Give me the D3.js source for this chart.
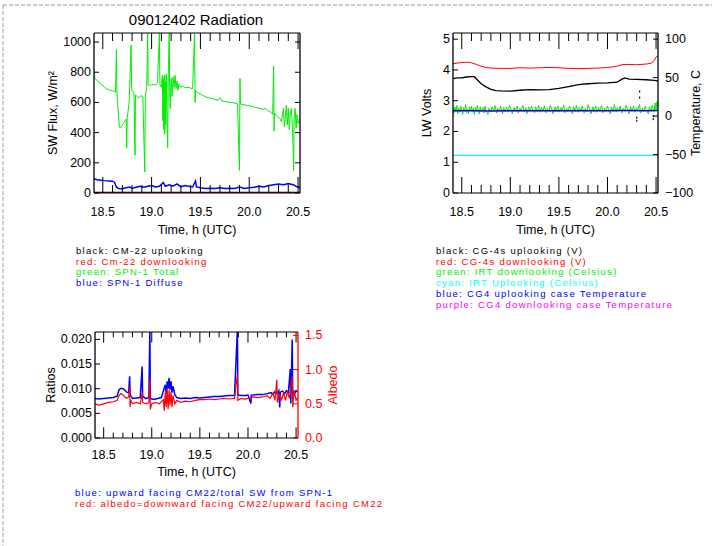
<!DOCTYPE html>
<html>
<head>
<meta charset="utf-8">
<script src="https://cdn.jsdelivr.net/npm/d3@7"></script>
<style>
  body { margin: 0; background: #fff; }
  text { font-family: "Liberation Sans", Arial, sans-serif; }
</style>
</head>
<body>
<div id="chart"></div>
<script>
// ---- data (time in h UTC) ----
const xMajor = [18.5, 19.0, 19.5, 20.0, 20.5];
const xMinor = [18.6, 18.7, 18.8, 18.9, 19.1, 19.2, 19.3, 19.4, 19.6, 19.7, 19.8, 19.9, 20.1, 20.2, 20.3, 20.4];

// panel 1: SW flux
const swTicks = [0, 200, 400, 600, 800, 1000];
const cm22Up = [[18.41, 1], [19.0, 1], [19.5, 1], [20.0, 1], [20.52, 1]];
const cm22Down = [[18.41, 0], [19.0, 0], [19.5, 0], [20.0, 0], [20.52, 0]];
const spnTotal = [[18.41,790],[18.42,760],[18.44,745],[18.46,735],[18.48,720],[18.50,712],[18.52,700],[18.54,690],[18.56,685],[18.58,680],[18.60,678],[18.62,672],[18.63,668],[18.64,950],[18.645,660],[18.66,520],[18.67,440],[18.68,430],[18.70,450],[18.72,470],[18.74,490],[18.745,300],[18.75,495],[18.77,600],[18.79,980],[18.795,700],[18.80,680],[18.82,660],[18.83,250],[18.835,650],[18.85,640],[18.87,630],[18.89,645],[18.91,640],[18.93,140],[18.935,635],[18.95,700],[18.96,1060],[18.965,715],[18.98,712],[19.00,718],[19.02,720],[19.04,715],[19.06,730],[19.08,1060],[19.085,720],[19.10,700],[19.11,780],[19.115,480],[19.12,760],[19.125,420],[19.13,780],[19.135,390],[19.14,740],[19.145,450],[19.15,790],[19.16,420],[19.165,300],[19.17,760],[19.18,1060],[19.185,700],[19.19,560],[19.20,760],[19.21,640],[19.22,770],[19.23,700],[19.24,780],[19.25,690],[19.26,740],[19.27,680],[19.28,720],[19.30,700],[19.32,710],[19.34,700],[19.36,698],[19.38,700],[19.40,695],[19.42,690],[19.44,1060],[19.445,600],[19.45,680],[19.47,665],[19.50,655],[19.53,645],[19.56,635],[19.60,628],[19.64,622],[19.68,615],[19.70,630],[19.72,610],[19.76,605],[19.80,600],[19.84,598],[19.88,592],[19.90,150],[19.905,760],[19.91,590],[19.94,585],[19.98,580],[20.02,575],[20.06,568],[20.10,562],[20.14,555],[20.17,560],[20.19,545],[20.21,540],[20.23,530],[20.24,520],[20.25,840],[20.255,410],[20.26,530],[20.28,510],[20.30,500],[20.32,490],[20.33,470],[20.35,560],[20.36,440],[20.38,580],[20.39,450],[20.40,560],[20.41,420],[20.42,520],[20.43,560],[20.44,470],[20.45,300],[20.455,150],[20.46,500],[20.47,560],[20.48,430],[20.49,520],[20.50,460],[20.51,480],[20.52,470]];
const spnDiffuse = [[18.41,95],[18.44,88],[18.48,85],[18.52,82],[18.56,80],[18.60,78],[18.62,70],[18.64,40],[18.66,30],[18.70,28],[18.74,35],[18.78,40],[18.80,30],[18.84,38],[18.88,45],[18.92,38],[18.96,45],[19.00,50],[19.04,40],[19.08,45],[19.12,70],[19.14,45],[19.18,55],[19.22,45],[19.26,60],[19.30,40],[19.34,50],[19.38,45],[19.42,40],[19.45,80],[19.46,40],[19.50,35],[19.55,30],[19.60,32],[19.65,30],[19.70,35],[19.75,30],[19.80,32],[19.85,30],[19.90,40],[19.95,30],[20.00,35],[20.05,38],[20.10,45],[20.15,40],[20.20,50],[20.25,55],[20.30,60],[20.35,55],[20.40,62],[20.45,55],[20.48,45],[20.52,35]];

// panel 2: LW volts and temperatures
const voltTicks = [0, 1, 2, 3, 4, 5];
const tempTicks = [-100, -50, 0, 50, 100];
const og4Up = [[18.41,3.72],[18.45,3.74],[18.50,3.74],[18.55,3.77],[18.60,3.78],[18.63,3.78],[18.66,3.68],[18.70,3.55],[18.75,3.45],[18.80,3.37],[18.85,3.33],[18.90,3.32],[19.00,3.31],[19.10,3.34],[19.20,3.36],[19.30,3.35],[19.40,3.36],[19.50,3.40],[19.60,3.46],[19.70,3.52],[19.80,3.55],[19.90,3.57],[20.00,3.58],[20.10,3.60],[20.15,3.70],[20.18,3.74],[20.22,3.70],[20.30,3.69],[20.40,3.68],[20.48,3.66],[20.52,3.64]];
const og4Down = [[18.41,4.20],[18.45,4.22],[18.50,4.24],[18.55,4.25],[18.60,4.23],[18.65,4.18],[18.70,4.12],[18.75,4.08],[18.80,4.06],[18.90,4.05],[19.00,4.05],[19.10,4.07],[19.20,4.06],[19.30,4.07],[19.40,4.08],[19.50,4.07],[19.60,4.05],[19.70,4.04],[19.80,4.05],[19.90,4.06],[20.00,4.08],[20.10,4.12],[20.15,4.17],[20.20,4.18],[20.30,4.17],[20.40,4.19],[20.45,4.22],[20.48,4.30],[20.50,4.42],[20.52,4.45]];
const og4Glitch = [[20.33,3.1],[20.33,3.3],[20.30,2.45],[20.30,2.35],[20.47,2.4],[20.47,2.5]];
const irtDown = [[18.41,9],[18.42,4],[18.43,12],[18.44,6],[18.45,14],[18.46,3],[18.47,10],[18.48,5],[18.49,13],[18.50,7],[18.51,2],[18.52,11],[18.53,6],[18.54,15],[18.55,4],[18.56,9],[18.57,3],[18.58,12],[18.59,7],[18.60,13],[18.61,5],[18.62,10],[18.63,2],[18.64,11],[18.65,6],[18.66,14],[18.67,8],[18.68,3],[18.69,12],[18.70,6],[18.72,11],[18.73,4],[18.74,13],[18.75,7],[18.77,2],[18.78,10],[18.80,5],[18.81,12],[18.83,6],[18.84,14],[18.86,4],[18.87,10],[18.89,7],[18.90,13],[18.92,3],[18.93,11],[18.95,6],[18.96,12],[18.98,5],[18.99,14],[19.01,8],[19.02,3],[19.04,11],[19.05,6],[19.07,13],[19.08,4],[19.10,10],[19.11,7],[19.13,14],[19.14,5],[19.16,11],[19.17,3],[19.19,12],[19.20,6],[19.22,13],[19.23,8],[19.25,4],[19.26,12],[19.28,6],[19.29,14],[19.31,5],[19.32,11],[19.34,7],[19.35,13],[19.37,4],[19.38,10],[19.40,6],[19.41,14],[19.43,8],[19.44,3],[19.46,12],[19.47,6],[19.49,13],[19.50,5],[19.52,11],[19.53,7],[19.55,14],[19.56,4],[19.58,10],[19.59,6],[19.61,13],[19.62,8],[19.64,3],[19.65,12],[19.67,6],[19.68,14],[19.70,5],[19.71,11],[19.73,7],[19.74,13],[19.76,4],[19.77,10],[19.79,6],[19.80,15],[19.82,8],[19.83,3],[19.85,12],[19.86,6],[19.88,13],[19.89,5],[19.91,11],[19.92,7],[19.94,14],[19.95,4],[19.97,10],[19.98,6],[20.00,13],[20.01,8],[20.03,3],[20.04,12],[20.06,6],[20.07,15],[20.09,5],[20.10,11],[20.12,7],[20.13,13],[20.15,4],[20.16,10],[20.18,6],[20.19,14],[20.21,8],[20.22,3],[20.24,12],[20.25,6],[20.27,13],[20.28,5],[20.30,11],[20.31,7],[20.33,15],[20.34,4],[20.36,10],[20.37,6],[20.39,13],[20.40,8],[20.42,3],[20.43,12],[20.45,6],[20.46,14],[20.48,5],[20.49,17],[20.50,8],[20.51,19],[20.52,10]];
const irtUp = [[18.41,-51],[19.0,-51],[19.5,-51],[20.0,-51],[20.52,-51]];
const caseUpTemp = [[18.41,7],[18.6,7.2],[18.8,6.8],[19.0,7],[19.2,7.1],[19.5,7],[19.8,7.2],[20.0,7.1],[20.2,7.3],[20.4,7.2],[20.52,7.4]];
const caseDownTemp = [[18.41,6.5],[18.6,6.6],[18.8,6.3],[19.0,6.4],[19.2,6.5],[19.5,6.4],[19.8,6.6],[20.0,6.5],[20.2,6.7],[20.4,6.6],[20.52,6.8]];

// panel 3: ratios and albedo
const ratioTicks = [0, 0.005, 0.010, 0.015, 0.020];
const albedoTicks = [0, 0.5, 1.0, 1.5];
const ratio = [[18.41,0.0080],[18.45,0.0079],[18.50,0.0080],[18.55,0.0081],[18.60,0.0082],[18.64,0.0085],[18.66,0.0098],[18.68,0.0101],[18.70,0.0100],[18.72,0.0097],[18.74,0.0093],[18.76,0.0092],[18.77,0.0125],[18.775,0.0088],[18.80,0.0080],[18.84,0.0081],[18.88,0.0082],[18.90,0.0145],[18.905,0.0085],[18.94,0.0080],[18.97,0.0082],[18.98,0.0220],[18.985,0.0080],[19.02,0.0078],[19.06,0.0080],[19.10,0.0082],[19.12,0.0095],[19.14,0.0108],[19.15,0.0090],[19.16,0.0115],[19.17,0.0100],[19.18,0.0122],[19.19,0.0098],[19.20,0.0115],[19.21,0.0092],[19.22,0.0105],[19.24,0.0088],[19.26,0.0082],[19.30,0.0080],[19.35,0.0081],[19.40,0.0080],[19.45,0.0082],[19.50,0.0081],[19.55,0.0082],[19.60,0.0083],[19.65,0.0084],[19.70,0.0084],[19.75,0.0085],[19.80,0.0086],[19.86,0.0086],[19.89,0.0220],[19.895,0.0087],[19.93,0.0086],[19.97,0.0086],[20.00,0.0087],[20.03,0.0070],[20.035,0.0087],[20.10,0.0088],[20.15,0.0088],[20.20,0.0090],[20.24,0.0092],[20.26,0.0088],[20.28,0.0094],[20.30,0.0090],[20.32,0.0096],[20.33,0.0062],[20.335,0.0093],[20.36,0.0095],[20.38,0.0090],[20.40,0.0096],[20.42,0.0092],[20.44,0.0140],[20.445,0.0070],[20.46,0.0200],[20.465,0.0095],[20.48,0.0088],[20.50,0.0096],[20.52,0.0093]];
const albedo = [[18.41,0.50],[18.45,0.48],[18.50,0.50],[18.55,0.52],[18.60,0.53],[18.64,0.55],[18.66,0.62],[18.68,0.65],[18.70,0.63],[18.72,0.60],[18.74,0.58],[18.76,0.60],[18.77,0.75],[18.775,0.45],[18.78,0.55],[18.80,0.50],[18.84,0.52],[18.88,0.50],[18.90,0.66],[18.905,0.52],[18.94,0.50],[18.97,0.52],[18.98,0.86],[18.985,0.42],[19.00,0.50],[19.04,0.52],[19.08,0.50],[19.12,0.56],[19.13,0.40],[19.14,0.66],[19.15,0.45],[19.16,0.72],[19.17,0.42],[19.18,0.70],[19.19,0.48],[19.20,0.68],[19.21,0.45],[19.22,0.62],[19.24,0.50],[19.26,0.55],[19.30,0.52],[19.35,0.54],[19.40,0.53],[19.45,0.55],[19.50,0.56],[19.55,0.56],[19.60,0.57],[19.65,0.56],[19.70,0.57],[19.75,0.58],[19.80,0.57],[19.86,0.58],[19.89,0.93],[19.895,0.55],[19.93,0.58],[19.97,0.57],[20.00,0.58],[20.05,0.60],[20.10,0.59],[20.15,0.60],[20.20,0.62],[20.23,0.58],[20.26,0.66],[20.28,0.55],[20.30,0.85],[20.305,0.52],[20.33,0.64],[20.35,0.56],[20.37,0.66],[20.39,0.55],[20.41,0.68],[20.43,0.58],[20.46,0.90],[20.465,0.45],[20.48,0.70],[20.50,0.55],[20.52,0.60]];

const legend1 = [["black: CM-22 uplooking", "#000"], ["red: Cm-22 downlooking", "#ff0000"], ["green: SPN-1 Total", "#00ee00"], ["blue: SPN-1 Diffuse", "#0000ff"]];
const legend2 = [["black: CG-4s uplooking (V)", "#000"], ["red: CG-4s downlooking (V)", "#ff0000"], ["green: IRT downlooking (Celsius)", "#00ee00"], ["cyan: IRT Uplooking (Celsius)", "#00ffff"], ["blue: CG4 uplooking case Temperature", "#0000ff"], ["purple: CG4 downlooking case Temperature", "#ff00ff"]];
const legend3 = [["blue: upward facing CM22/total SW from SPN-1", "#0000ff"], ["red: albedo=downward facing CM22/upward facing CM22", "#ff0000"]];

// ---- drawing ----
const svg = d3.select("#chart").append("svg")
  .attr("width", 715).attr("height", 546)
  .style("background", "#fff");

// dashed page border
svg.append("line").attr("x1", 3).attr("y1", 5).attr("x2", 712).attr("y2", 5)
  .attr("stroke", "#999").attr("stroke-dasharray", "4,2");
svg.append("line").attr("x1", 3).attr("y1", 5).attr("x2", 3).attr("y2", 546)
  .attr("stroke", "#999").attr("stroke-dasharray", "4,2");

let clipId = 0;

function panel(box, yDomL, yDomR) {
  const x = d3.scaleLinear().domain([18.41, 20.52]).range([box.x0, box.x1]);
  const yL = d3.scaleLinear().domain(yDomL).range([box.y1, box.y0]);
  const yR = yDomR ? d3.scaleLinear().domain(yDomR).range([box.y1, box.y0]) : null;
  const g = svg.append("g");
  const id = "clip" + (clipId++);
  svg.append("clipPath").attr("id", id).append("rect")
    .attr("x", box.x0).attr("y", box.y0)
    .attr("width", box.x1 - box.x0).attr("height", box.y1 - box.y0);
  const plot = g.append("g").attr("clip-path", "url(#" + id + ")");
  return { x, yL, yR, g, plot, box };
}

function line(p, data, y, color, w) {
  p.plot.append("path").datum(data)
    .attr("fill", "none").attr("stroke", color).attr("stroke-width", w || 1)
    .attr("d", d3.line().x(d => p.x(d[0])).y(d => y(d[1])));
}

function frame(p, o) {
  const b = p.box, g = p.g;
  const h = b.y1 - b.y0;
  const majLen = h * 0.1, minLen = h * 0.05;
  const labOff = o.labOff || 23, titleOff = o.titleOff || 41;
  // x ticks top and bottom
  xMajor.forEach(v => {
    const xx = p.x(v);
    g.append("line").attr("x1", xx).attr("x2", xx).attr("y1", b.y1).attr("y2", b.y1 - majLen).attr("stroke", "#000");
    g.append("line").attr("x1", xx).attr("x2", xx).attr("y1", b.y0).attr("y2", b.y0 + majLen).attr("stroke", "#000");
    g.append("text").attr("x", xx).attr("y", b.y1 + labOff).attr("text-anchor", "middle")
      .attr("font-size", 12.5).text(d3.format(".1f")(v));
  });
  xMinor.forEach(v => {
    const xx = p.x(v);
    g.append("line").attr("x1", xx).attr("x2", xx).attr("y1", b.y1).attr("y2", b.y1 - minLen).attr("stroke", "#000");
    g.append("line").attr("x1", xx).attr("x2", xx).attr("y1", b.y0).attr("y2", b.y0 + minLen).attr("stroke", "#000");
  });
  g.append("text").attr("x", (b.x0 + b.x1) / 2).attr("y", b.y1 + titleOff).attr("text-anchor", "middle")
    .attr("font-size", 12.5).text("Time, h (UTC)");

  // left axis
  o.leftTicks.forEach(v => {
    const yy = p.yL(v);
    g.append("line").attr("x1", b.x0).attr("x2", b.x0 + 5).attr("y1", yy).attr("y2", yy).attr("stroke", "#000");
    if (!p.yR) g.append("line").attr("x1", b.x1).attr("x2", b.x1 - 5).attr("y1", yy).attr("y2", yy).attr("stroke", "#000");
    g.append("text").attr("x", b.x0 - 3).attr("y", yy + 4).attr("text-anchor", "end")
      .attr("font-size", 12.5).text(o.leftFmt(v));
  });
  g.append("text").attr("transform", `translate(${o.leftTitleX},${(b.y0 + b.y1) / 2}) rotate(-90)`)
    .attr("text-anchor", "middle").attr("font-size", 12.5).text(o.leftTitle);

  // right axis
  const rc = o.rightColor || "#000";
  if (p.yR) {
    o.rightTicks.forEach(v => {
      const yy = p.yR(v);
      g.append("line").attr("x1", b.x1).attr("x2", b.x1 - 5).attr("y1", yy).attr("y2", yy).attr("stroke", rc);
      g.append("text").attr("x", b.x1 + 7).attr("y", yy + 4).attr("text-anchor", "start")
        .attr("fill", rc).attr("font-size", 12.5).text(o.rightFmt(v));
    });
    g.append("text").attr("transform", `translate(${o.rightTitleX},${(b.y0 + b.y1) / 2}) rotate(-90)`)
      .attr("text-anchor", "middle").attr("fill", rc).attr("font-size", 12.5).text(o.rightTitle);
  }

  // frame
  g.append("line").attr("x1", b.x0).attr("x2", b.x1).attr("y1", b.y0).attr("y2", b.y0).attr("stroke", "#000");
  g.append("line").attr("x1", b.x0).attr("x2", b.x1).attr("y1", b.y1).attr("y2", b.y1).attr("stroke", "#000");
  g.append("line").attr("x1", b.x0).attr("x2", b.x0).attr("y1", b.y0).attr("y2", b.y1).attr("stroke", "#000").attr("stroke-width", 1.3);
  g.append("line").attr("x1", b.x1).attr("x2", b.x1).attr("y1", b.y0).attr("y2", b.y1).attr("stroke", rc).attr("stroke-width", 1.3);
}

function legend(items, x, y) {
  items.forEach((d, i) => {
    svg.append("text").attr("x", x).attr("y", y + i * 10.7).attr("font-size", 9.5)
      .attr("letter-spacing", 1.3).attr("fill", d[1]).text(d[0]);
  });
}

// panel 1
const p1 = panel({ x0: 94, x1: 300, y0: 33, y1: 193 }, [0, 1060]);
line(p1, cm22Up, p1.yL, "#000", 2);
line(p1, cm22Down, p1.yL, "#ff0000", 1);
line(p1, spnTotal, p1.yL, "#00ee00", 1);
line(p1, spnDiffuse, p1.yL, "#0000ff", 1.5);
frame(p1, { leftTicks: swTicks, leftFmt: d3.format("d"), leftTitle: "SW Flux, W/m\u00b2", leftTitleX: 57 });
svg.append("text").attr("x", 196).attr("y", 25).attr("text-anchor", "middle")
  .attr("font-size", 15).text("09012402 Radiation");
legend(legend1, 76, 254);

// panel 2
const p2 = panel({ x0: 453, x1: 658, y0: 33, y1: 193 }, [0, 5.2], [-100, 108]);
line(p2, irtUp, p2.yR, "#00ffff", 1.2);
line(p2, irtDown, p2.yR, "#00ee00", 1);
line(p2, caseDownTemp, p2.yR, "#ff00ff", 1);
line(p2, caseUpTemp, p2.yR, "#0000ff", 1.2);
line(p2, og4Down, p2.yL, "#ff0000", 1);
line(p2, og4Up, p2.yL, "#000", 1.3);
p2.plot.selectAll("rect.gl").data(og4Glitch).join("rect").attr("class", "gl")
  .attr("x", d => p2.x(d[0]) - 0.5).attr("y", d => p2.yL(d[1]) - 1)
  .attr("width", 1.2).attr("height", 2).attr("fill", "#000");
frame(p2, {
  leftTicks: voltTicks, leftFmt: d3.format("d"), leftTitle: "LW Volts", leftTitleX: 431,
  rightTicks: tempTicks, rightFmt: d3.format("d"), rightTitle: "Temperature, C", rightTitleX: 700
});
legend(legend2, 436, 254);

// panel 3
const p3 = panel({ x0: 95, x1: 298, y0: 332, y1: 438 }, [0, 0.0215], [0, 1.55]);
line(p3, ratio, p3.yL, "#0000ff", 1.5);
line(p3, albedo, p3.yR, "#ff0000", 1.2);
frame(p3, {
  leftTicks: ratioTicks, leftFmt: d3.format(".3f"), leftTitle: "Ratios", leftTitleX: 55,
  rightTicks: albedoTicks, rightFmt: d3.format(".1f"), rightTitle: "Albedo", rightTitleX: 337,
  rightColor: "#ff0000", labOff: 21, titleOff: 38
});
legend(legend3, 75, 496);
</script>
</body>
</html>
